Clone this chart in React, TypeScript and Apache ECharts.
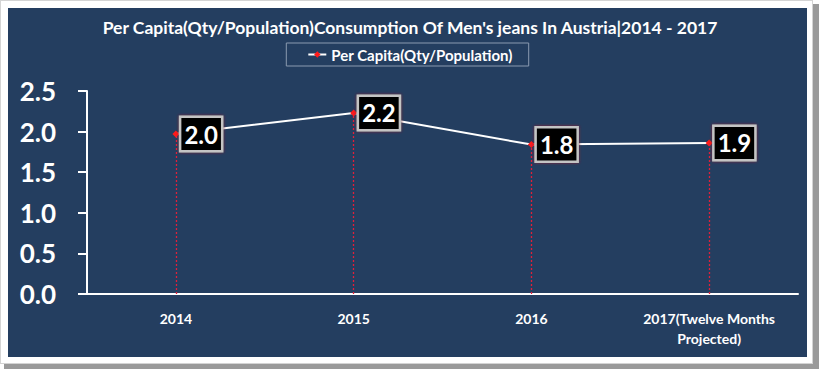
import React, { useEffect, useRef } from "react";
import * as echarts from "echarts";

const titleText = "Per Capita(Qty/Population)Consumption Of Men's jeans In Austria|2014 - 2017";
const seriesName = "Per Capita(Qty/Population)";
const categories = ["2014", "2015", "2016", "2017(Twelve Months\nProjected)"];
const values = [1.97, 2.23, 1.84, 1.86];
const yTicks = { min: 0, max: 2.5, interval: 0.5 };

const FONT = "Lato";

export default function App() {
  const ref = useRef<HTMLDivElement>(null);
  useEffect(() => {
    if (!ref.current) return;
    const chart = echarts.init(ref.current, null, { renderer: "svg" });
    chart.setOption({
      animation: false,
      backgroundColor: "transparent",
      title: {
        text: titleText,
        left: "center",
        top: 13,
        textStyle: { color: "#ffffff", fontFamily: FONT, fontWeight: "bold", fontSize: 17.5 },
      },
      legend: {
        top: 43,
        left: "center",
        data: [seriesName],
        borderColor: "#8a9ab0",
        borderWidth: 1,
        padding: [4, 16, 4, 21],
        itemWidth: 18,
        itemHeight: 8,
        itemGap: 2,
        textStyle: { color: "#ffffff", fontFamily: FONT, fontWeight: "bold", fontSize: 15 },
      },
      grid: { left: 87, right: 22, top: 91, bottom: 76, containLabel: false },
      xAxis: {
        type: "category",
        data: categories,
        boundaryGap: true,
        axisLine: { show: true, lineStyle: { color: "#ffffff", width: 2 } },
        axisTick: { show: false },
        splitLine: { show: false },
        axisLabel: {
          color: "#ffffff",
          fontFamily: FONT,
          fontWeight: "bold",
          fontSize: 14,
          lineHeight: 20,
          margin: 14,
          interval: 0,
        },
      },
      yAxis: {
        type: "value",
        min: yTicks.min,
        max: yTicks.max,
        interval: yTicks.interval,
        axisLine: { show: true, lineStyle: { color: "#ffffff", width: 2 } },
        axisTick: { show: true, length: 9, lineStyle: { color: "#ffffff", width: 2 } },
        splitLine: { show: false },
        axisLabel: {
          color: "#ffffff",
          fontFamily: FONT,
          fontWeight: "bold",
          fontSize: 26,
          margin: 31,
          formatter: (v: number) => v.toFixed(1),
        },
      },
      series: [
        {
          name: seriesName,
          type: "line",
          data: values,
          symbol: "diamond",
          symbolSize: 7,
          itemStyle: { color: "#ff1a1a" },
          lineStyle: { color: "#ffffff", width: 2 },
          label: {
            show: true,
            position: "right",
            distance: 2,
            formatter: (p: any) => Number(p.value).toFixed(1),
            color: "#ffffff",
            fontFamily: FONT,
            fontWeight: "bold",
            fontSize: 24,
            lineHeight: 28,
            backgroundColor: "#000000",
            borderColor: "#c4c4c4",
            borderWidth: 2.5,
            padding: [3, 3, 1, 3],
            shadowColor: "#8a2231",
            shadowBlur: 3,
          },
          markLine: {
            silent: true,
            symbol: "none",
            label: { show: false },
            lineStyle: { color: "#e0203a", type: [2, 2], width: 1.3, opacity: 1 },
            data: values.map((v, i) => [
              { coord: [i, 0] },
              { coord: [i, v] },
            ]),
          },
        },
      ],
    });
    return () => chart.dispose();
  }, []);

  return (
    <div style={{ position: "absolute", left: 0, top: 0, width: 820, height: 370, background: "#ffffff", overflow: "hidden" }}>
      <div style={{ position: "absolute", left: 813, top: 4, width: 6, height: 365, background: "#9a9a9a" }} />
      <div style={{ position: "absolute", left: 4, top: 364, width: 815, height: 5, background: "#9a9a9a" }} />
      <div style={{ position: "absolute", left: 0, top: 0, width: 813, height: 364, background: "#ffffff", border: "1px solid #d4d4d4", boxSizing: "border-box" }} />
      <div style={{ position: "absolute", left: 8, top: 8, width: 799, height: 349, background: "#243e60" }} />
      <div ref={ref} style={{ position: "absolute", left: 0, top: 0, width: 820, height: 370 }} />
    </div>
  );
}
